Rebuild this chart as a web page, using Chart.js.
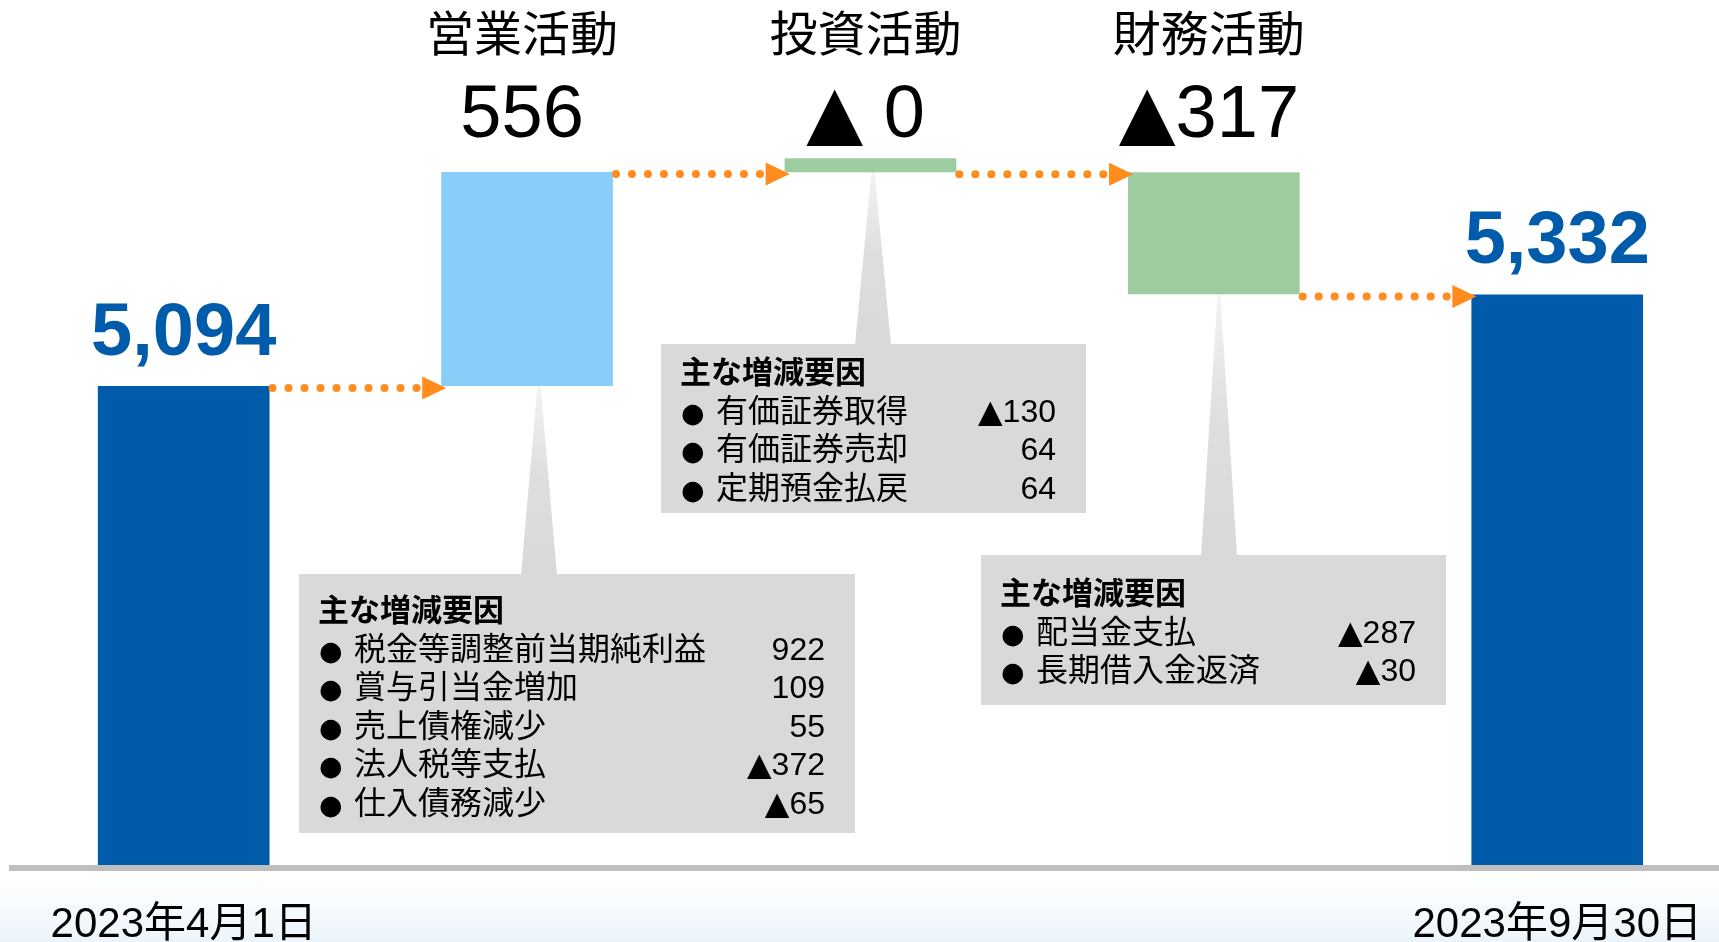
<!DOCTYPE html>
<html lang="ja">
<head>
<meta charset="utf-8">
<title>キャッシュ・フローの状況</title>
<script src="https://cdn.jsdelivr.net/npm/chart.js@4.4.0/dist/chart.umd.min.js"></script>
<style>
  html, body { margin: 0; padding: 0; }
  body {
    width: 1719px; height: 942px; overflow: hidden;
    background: linear-gradient(to bottom, #ffffff 0px, #ffffff 872px, #f7fbfd 905px, #ecf4fb 942px);
  }
  /* 右端の棒を元の位置に置くため、描画領域を窓より少し広く取る */
  #wrap { position: relative; width: 1734px; height: 942px; }
</style>
</head>
<body>
<div id="wrap"><canvas id="myChart"></canvas></div>
<script>
// 現金及び現金同等物の増減（百万円）
var categories = ['2023年4月1日', '営業活動', '投資活動', '財務活動', '2023年9月30日'];
var openingBalance = 5094;
var closingBalance = 5332;
var flows = [556, -0.4, -317]; // 営業, 投資(▲0), 財務

// 主な増減要因
var opLabels = ['税金等調整前当期純利益', '賞与引当金増加', '売上債権減少', '法人税等支払', '仕入債務減少'];
var opValues = [922, 109, 55, -372, -65];
var invLabels = ['有価証券取得', '有価証券売却', '定期預金払戻'];
var invValues = [-130, 64, 64];
var finLabels = ['配当金支払', '長期借入金返済'];
var finValues = [-287, -30];

var FONT = '"Liberation Sans", "Noto Sans CJK JP", sans-serif';
var SYM = '"DejaVu Sans", sans-serif';
var barColors = ['#005bab', '#89cef8', '#9ecca1', '#9ecca1', '#005bab'];
var orange = '#ff8c1c';

// 滝グラフ用のデータ（期首・期末は通常の棒、途中は浮動棒）
var barData = [openingBalance];
var level = openingBalance;
flows.forEach(function (f) {
  barData.push([level, level + f]);
  level += f;
});
barData.push(closingBalance);

function fmt(v) {
  var n = Math.round(Math.abs(v));
  if (v < 0) return '▲' + (n === 0 ? ' 0' : n.toLocaleString('en-US'));
  return n.toLocaleString('en-US');
}

// ▲や●は大きめの記号フォントで描く
function drawText(ctx, text, x, y, align, size, weight) {
  var runs = [];
  text.split('').forEach(function (ch) {
    var sym = ch === '▲' || ch === '●';
    var last = runs[runs.length - 1];
    if (last && last.sym === sym) last.t += ch;
    else runs.push({ t: ch, sym: sym });
  });
  var total = 0;
  runs.forEach(function (r) {
    r.font = (weight || 'normal') + ' ' + size + 'px ' + (r.sym ? SYM : FONT);
    ctx.font = r.font;
    r.w = ctx.measureText(r.t).width;
    total += r.w;
  });
  var sx = align === 'center' ? x - total / 2 : (align === 'right' ? x - total : x);
  ctx.textAlign = 'left';
  ctx.textBaseline = 'alphabetic';
  runs.forEach(function (r) {
    ctx.font = r.font;
    ctx.fillText(r.t, sx, y);
    sx += r.w;
  });
}

// 吹き出しの配置
var callouts = [
  { bar: 1, x: 299, y: 574, w: 556, h: 259, px: 539, ty: 609, labels: opLabels, values: opValues },
  { bar: 2, x: 661, y: 344, w: 425, h: 169, px: 873, ty: 371, labels: invLabels, values: invValues },
  { bar: 3, x: 981, y: 555, w: 465, h: 150, px: 1219, ty: 592, labels: finLabels, values: finValues }
];

var decorPlugin = {
  id: 'decor',
  beforeDatasetsDraw: function (chart) {
    var ctx = chart.ctx;
    var meta = chart.getDatasetMeta(0);
    ctx.save();
    callouts.forEach(function (c) {
      var el = meta.data[c.bar];
      var tipY = Math.max(el.y, el.base) - 6;
      var g = ctx.createLinearGradient(0, tipY, 0, c.y);
      g.addColorStop(0, '#f4f4f4');
      g.addColorStop(0.5, '#dedede');
      g.addColorStop(1, '#d9d9d9');
      ctx.fillStyle = g;
      ctx.beginPath();
      ctx.moveTo(c.px - 1, tipY);
      ctx.lineTo(c.px + 1, tipY);
      ctx.lineTo(c.px + 18, c.y + 1);
      ctx.lineTo(c.px - 18, c.y + 1);
      ctx.closePath();
      ctx.fill();

      ctx.fillStyle = '#d9d9d9';
      ctx.fillRect(c.x, c.y, c.w, c.h);

      ctx.fillStyle = '#000';
      drawText(ctx, '主な増減要因', c.x + 19, c.ty + 11.5, 'left', 31, 'bold');
      c.labels.forEach(function (lab, i) {
        var y = c.ty + 38.6 * (i + 1) + 12;
        drawText(ctx, '●', c.x + 20, y, 'left', 27);
        drawText(ctx, lab, c.x + 55, y, 'left', 32);
        drawText(ctx, fmt(c.values[i]), c.x + c.w - 30, y, 'right', 32);
      });
    });
    ctx.restore();
  },
  afterDatasetsDraw: function (chart) {
    var ctx = chart.ctx;
    var meta = chart.getDatasetMeta(0);
    var yScale = chart.scales.y;
    ctx.save();

    // 点線の矢印
    for (var i = 0; i < meta.data.length - 1; i++) {
      var a = meta.data[i], b = meta.data[i + 1];
      var next = barData[i + 1];
      var lv = Array.isArray(next) ? next[0] : next;
      var y = yScale.getPixelForValue(lv) + 2;
      var x0 = a.x + a.width / 2 + 3;
      var tip = b.x - b.width / 2 + 5;
      var base = tip - 24;
      ctx.fillStyle = orange;
      for (var x = x0; x <= base - 5; x += 16) {
        ctx.beginPath();
        ctx.arc(x, y, 4, 0, Math.PI * 2);
        ctx.fill();
      }
      ctx.beginPath();
      ctx.moveTo(base, y - 11.5);
      ctx.lineTo(tip, y);
      ctx.lineTo(base, y + 11.5);
      ctx.closePath();
      ctx.fill();
    }

    // 各活動の見出しと金額
    ctx.fillStyle = '#000';
    for (var k = 1; k <= flows.length; k++) {
      var el = meta.data[k];
      drawText(ctx, categories[k], el.x - 5, 51, 'center', 48);
      drawText(ctx, fmt(flows[k - 1]), el.x - 5, 137, 'center', 74);
    }

    // 期首・期末残高
    ctx.fillStyle = '#005bab';
    [0, meta.data.length - 1].forEach(function (idx) {
      var el = meta.data[idx];
      drawText(ctx, barData[idx].toLocaleString('en-US'), el.x, el.y - 31, 'center', 74, 'bold');
    });
    ctx.restore();
  }
};

var ctx = document.getElementById('myChart').getContext('2d');
var myChart = new Chart(ctx, {
  type: 'bar',
  data: {
    labels: categories,
    datasets: [{
      data: barData,
      backgroundColor: barColors,
      borderWidth: 0,
      barPercentage: 0.5,
      categoryPercentage: 1,
      minBarLength: 14
    }]
  },
  options: {
    responsive: true,
    maintainAspectRatio: false,
    animation: false,
    layout: { padding: { left: 12, right: 0, top: 10, bottom: 0 } },
    plugins: {
      legend: { display: false },
      tooltip: { enabled: false }
    },
    scales: {
      y: { display: false, min: 3842, max: 6071 },
      x: {
        grid: { display: false, drawTicks: false },
        border: { display: true, color: '#bfbfbf', width: 6, z: 1 },
        ticks: {
          autoSkip: false,
          maxRotation: 0,
          padding: 32,
          color: '#000',
          font: { family: FONT, size: 42 },
          callback: function (v, i) {
            return (i === 0 || i === categories.length - 1) ? categories[i] : '';
          }
        },
        afterFit: function (scale) { scale.height = 74; }
      }
    }
  },
  plugins: [decorPlugin]
});
</script>
</body>
</html>
